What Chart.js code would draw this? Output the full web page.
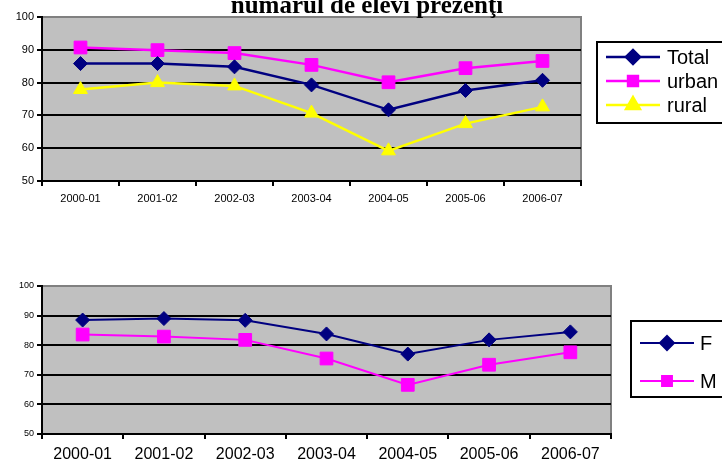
<!DOCTYPE html>
<html>
<head>
<meta charset="utf-8">
<script src="https://cdn.jsdelivr.net/npm/chart.js@4.4.1/dist/chart.umd.min.js"></script>
<style>
    body { margin: 0; background: #fff; width: 722px; height: 462px; overflow: hidden; position: relative; }
    .box { position: absolute; left: 0; width: 722px; }
    #top { top: 0; height: 210px; }
    #bottom { top: 270px; height: 192px; }
</style>
</head>
<body>
<div class="box" id="top"><canvas id="chartTop"></canvas></div>
<div class="box" id="bottom"><canvas id="chartBottom"></canvas></div>
<script>
// School years on the x axis
const years = ['2000-01', '2001-02', '2002-03', '2003-04', '2004-05', '2005-06', '2006-07'];

// Top chart: attendance by area
const total = [85.8, 85.8, 84.8, 79.3, 71.7, 77.6, 80.7];
const urban = [90.7, 89.9, 89.0, 85.4, 80.1, 84.4, 86.6];
const rural = [77.9, 80.0, 79.0, 70.7, 59.2, 67.5, 72.6];

// Bottom chart: attendance by sex
const fete = [88.5, 89.0, 88.4, 83.8, 77.0, 81.8, 84.5];
const baieti = [83.6, 82.9, 81.8, 75.5, 66.6, 73.4, 77.6];

const yMin = 50, yMax = 100, yStep = 10;

const titleText = 'numarul de elevi prezenţi';

const NAVY = '#000080', MAGENTA = '#FF00FF', YELLOW = '#FFFF00';

// gray plot background with gray frame on top/right
const plotBackground = {
    id: 'plotBackground',
    beforeDraw(chart) {
        const { ctx, chartArea: a } = chart;
        ctx.save();
        ctx.fillStyle = '#C0C0C0';
        ctx.fillRect(a.left, a.top, a.right - a.left, a.bottom - a.top);
        ctx.strokeStyle = '#808080';
        ctx.lineWidth = 2;
        ctx.beginPath();
        ctx.moveTo(a.left, a.top);
        ctx.lineTo(a.right, a.top);
        ctx.lineTo(a.right, a.bottom);
        ctx.stroke();
        ctx.restore();
    }
};

// boxed legend drawn to the right of the plot
const boxLegend = {
    id: 'boxLegend',
    afterDraw(chart, args, opts) {
        const ctx = chart.ctx;
        ctx.save();
        ctx.fillStyle = '#fff';
        ctx.fillRect(opts.x, opts.y, opts.w, opts.h);
        ctx.strokeStyle = '#000';
        ctx.lineWidth = 2;
        ctx.strokeRect(opts.x, opts.y, opts.w, opts.h);
        ctx.font = opts.font;
        ctx.textBaseline = 'middle';
        chart.data.datasets.forEach((ds, i) => {
            const y = opts.rowY[i];
            ctx.strokeStyle = ds.borderColor;
            ctx.lineWidth = opts.lineWidth;
            ctx.beginPath();
            ctx.moveTo(opts.lineX0, y);
            ctx.lineTo(opts.lineX1, y);
            ctx.stroke();
            ctx.fillStyle = ds.pointBackgroundColor;
            ctx.strokeStyle = ds.pointBorderColor;
            Chart.helpers.drawPoint(ctx, {
                pointStyle: ds.pointStyle,
                radius: opts.markerRadius[i],
                rotation: 0,
                borderWidth: 1
            }, (opts.lineX0 + opts.lineX1) / 2, y);
            ctx.fillStyle = '#000';
            ctx.fillText(ds.label, opts.textX, y + 1);
        });
        ctx.restore();
    }
};

// title partly above the top edge
const topTitle = {
    id: 'topTitle',
    afterDraw(chart) {
        const ctx = chart.ctx;
        ctx.save();
        ctx.font = 'bold 25px "Liberation Serif", "Times New Roman", serif';
        ctx.fillStyle = '#000';
        ctx.textAlign = 'center';
        ctx.textBaseline = 'alphabetic';
        ctx.fillText(titleText, 367, 13);
        ctx.restore();
    }
};

function series(label, data, color, style, radius, width) {
    return {
        label: label,
        data: data,
        borderColor: color,
        backgroundColor: color,
        borderWidth: width,
        pointStyle: style,
        pointRadius: radius,
        pointBackgroundColor: color,
        pointBorderColor: color,
        pointBorderWidth: 1,
        tension: 0
    };
}

function scales(yFont, xFont, yWidth, xHeight, gridWidth) {
    return {
        x: {
            offset: true,
            grid: {
                offset: true,
                drawOnChartArea: false,
                drawTicks: true,
                tickLength: 5,
                tickColor: '#000',
                lineWidth: 2
            },
            border: { color: '#000', width: 2 },
            ticks: { color: '#000', font: { family: 'Liberation Sans, Arial', size: xFont }, padding: 6, maxRotation: 0, autoSkip: false },
            afterFit(s) { s.height = xHeight; }
        },
        y: {
            min: yMin,
            max: yMax,
            ticks: { stepSize: yStep, color: '#000', font: { family: 'Liberation Sans, Arial', size: yFont }, padding: 3 },
            grid: {
                color: c => (c.tick && c.tick.value === yMax) ? '#808080' : '#000',
                lineWidth: gridWidth,
                tickLength: 5,
                tickColor: '#000'
            },
            border: { color: '#000', width: 2 },
            afterFit(s) { s.width = yWidth; }
        }
    };
}

new Chart(document.getElementById('chartTop'), {
    type: 'line',
    data: {
        labels: years,
        datasets: [
            series('Total', total, NAVY, 'rectRot', 7, 2.5),
            series('urban', urban, MAGENTA, 'rect', 9, 2.5),
            series('rural', rural, YELLOW, 'triangle', 8, 2.5)
        ]
    },
    options: {
        responsive: true,
        maintainAspectRatio: false,
        animation: false,
        layout: { padding: { top: 17, right: 141, left: 0, bottom: 0 } },
        plugins: {
            legend: { display: false },
            tooltip: { enabled: false },
            boxLegend: {
                x: 597, y: 42, w: 130, h: 81,
                lineX0: 606, lineX1: 660, textX: 667,
                rowY: [57, 81, 105],
                markerRadius: [7, 7, 8],
                lineWidth: 2.5,
                font: '20px "Liberation Sans", Arial, sans-serif'
            }
        },
        scales: scales(11, 11, 42, 29, 2)
    },
    plugins: [plotBackground, boxLegend, topTitle]
});

new Chart(document.getElementById('chartBottom'), {
    type: 'line',
    data: {
        labels: years,
        datasets: [
            series('F', fete, NAVY, 'rectRot', 7, 2),
            series('M', baieti, MAGENTA, 'rect', 9, 2)
        ]
    },
    options: {
        responsive: true,
        maintainAspectRatio: false,
        animation: false,
        layout: { padding: { top: 16, right: 111, left: 0, bottom: 0 } },
        plugins: {
            legend: { display: false },
            tooltip: { enabled: false },
            boxLegend: {
                x: 631, y: 51, w: 100, h: 76,
                lineX0: 640, lineX1: 694, textX: 700,
                rowY: [73, 111],
                markerRadius: [7, 7],
                lineWidth: 2,
                font: '20px "Liberation Sans", Arial, sans-serif'
            }
        },
        scales: scales(9, 16, 42, 28, 2)
    },
    plugins: [plotBackground, boxLegend]
});
</script>
</body>
</html>
